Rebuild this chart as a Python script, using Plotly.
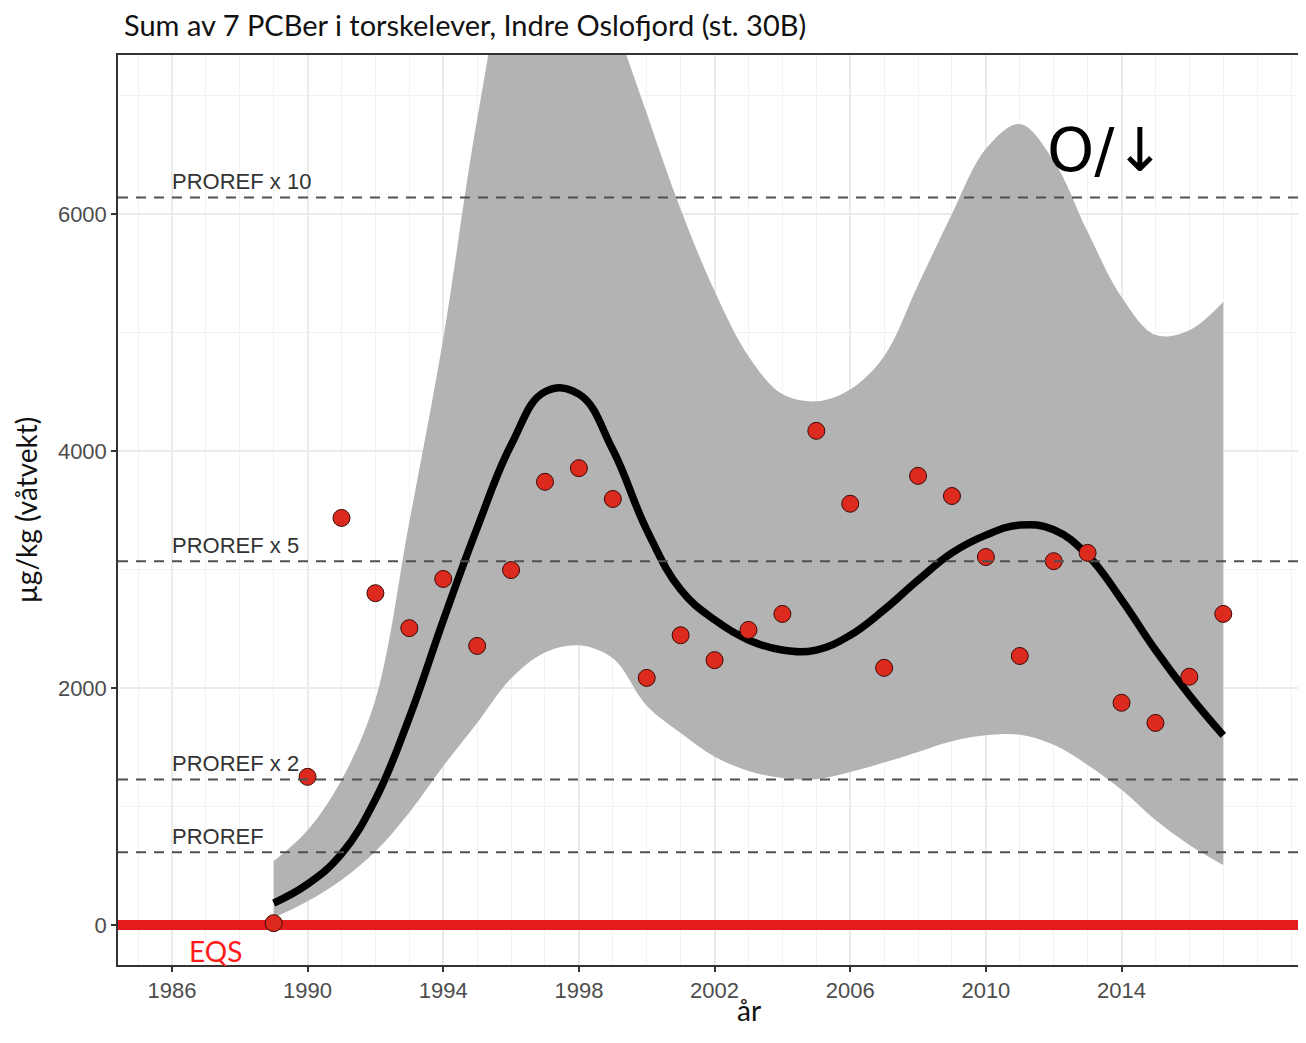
import plotly.graph_objects as go

# Observed yearly values
years = list(range(1989, 2018))
values = [15, 1250, 3435, 2800, 2505, 2920, 2355, 2995, 3740, 3855, 3595, 2085, 2445,
          2235, 2490, 2625, 4170, 3555, 2170, 3790, 3620, 3105, 2270, 3070, 3140, 1875,
          1705, 2095, 2625]

# Smoothed trend and confidence band
fit = [185, 345, 600, 1060, 1750, 2570, 3350, 4050, 4500, 4480, 4010, 3335, 2830,
       2575, 2405, 2320, 2320, 2445, 2660, 2910, 3140, 3290, 3375, 3335, 3120, 2745,
       2320, 1940, 1600]
upper = [540, 800, 1224, 1900, 3400, 4950, 6800, 8200, 8800, 8800, 7700, 6850, 6040,
         5350, 4800, 4480, 4420, 4520, 4800, 5400, 6000, 6550, 6760, 6450, 5850, 5300,
         4980, 5020, 5260]
lower = [60, 200, 380, 620, 950, 1340, 1705, 2080, 2300, 2360, 2250, 1850, 1620, 1420,
         1300, 1240, 1230, 1290, 1370, 1460, 1550, 1600, 1605, 1520, 1350, 1140, 885,
         675, 505]

proref = 614
ref_labels = ["PROREF", "PROREF x 2", "PROREF x 5", "PROREF x 10"]
ref_factors = [1, 2, 5, 10]
eqs = 0

xticks = list(range(1986, 2015, 4))
yticks = [0, 2000, 4000, 6000]

fig = go.Figure()

# confidence band
fig.add_trace(go.Scatter(x=years, y=upper, mode="lines", line=dict(width=0, shape="spline"),
                         hoverinfo="skip", showlegend=False))
fig.add_trace(go.Scatter(x=years, y=lower, mode="lines", line=dict(width=0, shape="spline"),
                         fill="tonexty", fillcolor="#b3b3b3", hoverinfo="skip", showlegend=False))

# trend
fig.add_trace(go.Scatter(x=years, y=fit, mode="lines",
                         line=dict(color="black", width=7.5, shape="spline", smoothing=1.2),
                         showlegend=False))

# observations
fig.add_trace(go.Scatter(x=years, y=values, mode="markers",
                         marker=dict(size=17, color="#dc2a1e", line=dict(color="#3a0a05", width=1)),
                         showlegend=False))

# reference lines
for lab, f in zip(ref_labels, ref_factors):
    fig.add_hline(y=proref * f, line=dict(color="#505050", width=2, dash="10px,8px"))
    fig.add_annotation(x=1986, y=proref * f, text=lab, showarrow=False, xanchor="left",
                       yanchor="bottom", yshift=1, xshift=-2,
                       font=dict(family="Liberation Sans, Arial", size=22, color="#333333"))

fig.add_annotation(x=1986.45, y=eqs, text="EQS", showarrow=False, xanchor="left", yanchor="top",
                   yshift=-7, font=dict(family="Lato", size=28, color="#ff1a1a"))

fig.add_annotation(x=2013.55, y=6540, text="O/↓", showarrow=False,
                   font=dict(family="DejaVu Sans", size=60, color="black"))

# x axis title (panel in the original extends past the right edge)
fig.add_annotation(xref="paper", yref="paper", x=(750 - 118) / 1188, y=-(1010 - 965) / 910,
                   text="år", showarrow=False, xanchor="center", yanchor="middle",
                   font=dict(family="Lato", size=28, color="#111111"))

fig.update_layout(
    width=1298, height=1027,
    margin=dict(l=110, r=0, t=47, b=70),
    plot_bgcolor="white", paper_bgcolor="white",
    title=dict(text="Sum av 7 PCBer i torskelever, Indre Oslofjord (st. 30B)",
               x=116 / 1298, xanchor="left", y=1 - 18 / 1027, yanchor="middle",
               font=dict(family="Lato", size=29, color="#111111")),
    showlegend=False,
)
fig.update_xaxes(range=[1984.41, 2019.38], tickvals=xticks, ticks="outside", ticklen=5,
                 tickcolor="#333333", tickwidth=1.5,
                 tickfont=dict(family="Liberation Sans, Arial", size=22, color="#4d4d4d"),
                 showgrid=True, gridcolor="#ebebeb", gridwidth=1.5,
                 minor=dict(dtick=1, tick0=1985, showgrid=True, gridcolor="#f2f2f2", gridwidth=1),
                 showline=True, linecolor="#333333", linewidth=1.5, mirror=True, zeroline=False)
fig.update_yaxes(range=[-338, 7342], tickvals=yticks, ticks="outside", ticklen=5,
                 tickcolor="#333333", tickwidth=1.5,
                 tickfont=dict(family="Liberation Sans, Arial", size=22, color="#4d4d4d"),
                 showgrid=True, gridcolor="#ebebeb", gridwidth=1.5,
                 minor=dict(dtick=1000, tick0=0, showgrid=True, gridcolor="#f2f2f2", gridwidth=1),
                 showline=True, linecolor="#333333", linewidth=1.5, mirror=True,
                 zeroline=True, zerolinecolor="#e41a1c", zerolinewidth=10,
                 title=dict(text="µg/kg (våtvekt)", font=dict(family="Lato", size=28, color="#111111"),
                            standoff=12))

fig.write_html("out.html")
